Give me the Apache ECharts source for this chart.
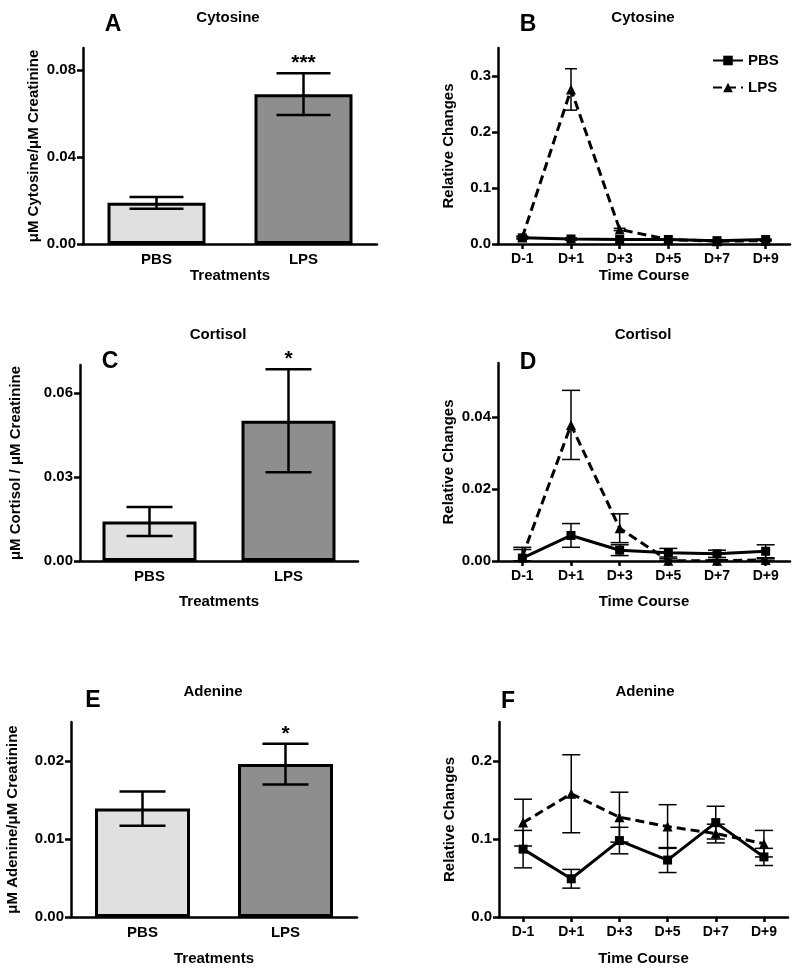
<!DOCTYPE html>
<html>
<head>
<meta charset="utf-8">
<script src="https://cdn.jsdelivr.net/npm/echarts@6.0.0/dist/echarts.min.js"></script>
<style>
  html, body { margin: 0; padding: 0; background: #fff; }
  #main { width: 800px; height: 974px; }
</style>
</head>
<body>
<div id="main"></div>
<script>
// categories
var treatments = ['PBS', 'LPS'];
var days = ['D-1', 'D+1', 'D+3', 'D+5', 'D+7', 'D+9'];

// A - cytosine, treatments (mean / sem)
var cytosineBar = [0.0189, 0.0688];
var cytosineBarErr = [0.0027, 0.0096];
var cytosineStars = ['', '***'];
// B - cytosine, time course
var cytosinePBS = [0.011, 0.009, 0.008, 0.008, 0.006, 0.008];
var cytosinePBSErr = [0.002, 0.002, 0.001, 0.001, 0.001, 0.001];
var cytosineLPS = [0.012, 0.276, 0.026, 0.008, 0.005, 0.006];
var cytosineLPSErr = [0.002, 0.037, 0.002, 0.001, 0.001, 0.001];

// C - cortisol, treatments
var cortisolBar = [0.0141, 0.0501];
var cortisolBarErr = [0.0052, 0.0184];
var cortisolStars = ['', '*'];
// D - cortisol, time course
var cortisolPBS = [0.0008, 0.0071, 0.0030, 0.0023, 0.0020, 0.0027];
var cortisolPBSErr = [0.0030, 0.0033, 0.0015, 0.0012, 0.0010, 0.0018];
var cortisolLPS = [0.0012, 0.0378, 0.0091, 0.0001, 0.0001, 0.0003];
var cortisolLPSErr = [0.0020, 0.0096, 0.0040, 0.0005, 0.0003, 0.0003];

// E - adenine, treatments
var adenineBar = [0.0139, 0.0196];
var adenineBarErr = [0.0022, 0.0026];
var adenineStars = ['', '*'];
// F - adenine, time course
var adeninePBS = [0.087, 0.049, 0.098, 0.073, 0.121, 0.077];
var adeninePBSErr = [0.024, 0.012, 0.017, 0.016, 0.021, 0.011];
var adenineLPS = [0.121, 0.158, 0.128, 0.116, 0.107, 0.094];
var adenineLPSErr = [0.030, 0.050, 0.032, 0.028, 0.012, 0.017];

// y axis ticks
var ticksA = [0, 0.04, 0.08];
var ticksB = [0, 0.1, 0.2, 0.3];
var ticksC = [0, 0.03, 0.06];
var ticksD = [0, 0.02, 0.04];
var ticksE = [0, 0.01, 0.02];
var ticksF = [0, 0.1, 0.2];

var FONT = 'Liberation Sans, Arial, sans-serif';
var barColors = ['#e0e0e0', '#8e8e8e'];

var chart = echarts.init(document.getElementById('main'));

function xAxis(grid, cats, name, gap, ticks) {
  return {
    type: 'category', gridIndex: grid, data: cats,
    name: name, nameLocation: 'middle', nameGap: gap,
    nameTextStyle: { fontFamily: FONT, fontWeight: 'bold', fontSize: 15, color: '#000', verticalAlign: 'top' },
    axisLine: { lineStyle: { color: '#000', width: 2.5 } },
    axisTick: { show: ticks, alignWithLabel: true, length: 5, lineStyle: { color: '#000', width: 2.5 } },
    axisLabel: { fontFamily: FONT, fontWeight: 'bold', fontSize: ticks ? 14 : 15, color: '#000', margin: 8 }
  };
}

function yAxis(grid, max, ticks, digits, name, gap) {
  return {
    type: 'value', gridIndex: grid, min: 0, max: max,
    name: name, nameLocation: 'middle', nameGap: gap,
    nameTextStyle: { fontFamily: FONT, fontWeight: 'bold', fontSize: 15, color: '#000' },
    splitLine: { show: false },
    axisLine: { show: true, lineStyle: { color: '#000', width: 2.5 } },
    axisTick: { show: true, length: 6, customValues: ticks, lineStyle: { color: '#000', width: 2.5 } },
    axisLabel: {
      customValues: ticks, margin: 7,
      fontFamily: FONT, fontWeight: 'bold', fontSize: 15, color: '#000',
      formatter: function (v) { return v.toFixed(digits); }
    }
  };
}

function bars(grid, values, width) {
  return {
    type: 'bar', xAxisIndex: grid, yAxisIndex: grid, barWidth: width, z: 2,
    data: values.map(function (v, i) {
      return { value: v, itemStyle: { color: barColors[i], borderColor: '#000', borderWidth: 3 } };
    })
  };
}

function errorBars(grid, means, errs, cap, lw, stars, z) {
  return {
    type: 'custom', xAxisIndex: grid, yAxisIndex: grid, z: z, silent: true,
    data: means.map(function (m, i) { return [i, Math.max(0, m - errs[i]), m + errs[i]]; }),
    renderItem: function (params, api) {
      var lo = api.coord([api.value(0), api.value(1)]);
      var hi = api.coord([api.value(0), api.value(2)]);
      var st = { stroke: '#000', lineWidth: lw };
      var kids = [
        { type: 'line', shape: { x1: hi[0], y1: hi[1], x2: lo[0], y2: lo[1] }, style: st },
        { type: 'line', shape: { x1: hi[0] - cap, y1: hi[1], x2: hi[0] + cap, y2: hi[1] }, style: st },
        { type: 'line', shape: { x1: lo[0] - cap, y1: lo[1], x2: lo[0] + cap, y2: lo[1] }, style: st }
      ];
      if (stars && stars[params.dataIndex]) {
        kids.push({
          type: 'text', x: hi[0], y: hi[1] - 10,
          style: { text: stars[params.dataIndex], font: 'bold 21px ' + FONT, fill: '#000', align: 'center', verticalAlign: 'middle' }
        });
      }
      return { type: 'group', children: kids };
    }
  };
}

function line(grid, name, values, dashed, symbol, size) {
  return {
    type: 'line', name: name, xAxisIndex: grid, yAxisIndex: grid, z: 3,
    data: values, symbol: symbol, symbolSize: size,
    itemStyle: { color: '#000' },
    lineStyle: { color: '#000', width: 3, type: dashed ? [9, 5] : 'solid' }
  };
}

function text(x, y, str, size) {
  return {
    type: 'text', x: x, y: y,
    style: { text: str, font: 'bold ' + size + 'px ' + FONT, fill: '#000', align: 'center', verticalAlign: 'middle' }
  };
}

chart.setOption({
  animation: false,
  backgroundColor: '#fff',
  grid: [
    { left: 83, top: 48, width: 294, height: 196 },
    { left: 498, top: 48, width: 292, height: 196 },
    { left: 80, top: 365, width: 278, height: 196 },
    { left: 498, top: 363, width: 292, height: 198 },
    { left: 71, top: 722, width: 286, height: 195 },
    { left: 499, top: 722, width: 289, height: 195 }
  ],
  xAxis: [
    xAxis(0, treatments, 'Treatments', 24, false),
    xAxis(1, days, 'Time Course', 24, true),
    xAxis(2, treatments, 'Treatments', 33, false),
    xAxis(3, days, 'Time Course', 33, true),
    xAxis(4, treatments, 'Treatments', 34, false),
    xAxis(5, days, 'Time Course', 34, true)
  ],
  yAxis: [
    yAxis(0, 0.09, ticksA, 2, '\u03bcM Cytosine/\u03bcM Creatinine', 42),
    yAxis(1, 0.35, ticksB, 1, 'Relative Changes', 42),
    yAxis(2, 0.07, ticksC, 2, '\u03bcM Cortisol / \u03bcM Creatinine', 57),
    yAxis(3, 0.055, ticksD, 2, 'Relative Changes', 42),
    yAxis(4, 0.025, ticksE, 2, '\u03bcM Adenine/\u03bcM Creatinine', 51),
    yAxis(5, 0.25, ticksF, 1, 'Relative Changes', 42)
  ],
  legend: {
    data: ['PBS', 'LPS'], orient: 'vertical', left: 707, top: 48,
    itemWidth: 30, itemHeight: 12, itemGap: 12,
    textStyle: { fontFamily: FONT, fontWeight: 'bold', fontSize: 15, color: '#000' }
  },
  graphic: [
    text(113, 25, 'A', 23), text(228, 18, 'Cytosine', 15),
    text(528, 25, 'B', 23), text(643, 18, 'Cytosine', 15),
    text(110, 362, 'C', 23), text(218, 335, 'Cortisol', 15),
    text(528, 363, 'D', 23), text(643, 335, 'Cortisol', 15),
    text(93, 701, 'E', 23), text(213, 692, 'Adenine', 15),
    text(508, 702, 'F', 23), text(645, 692, 'Adenine', 15)
  ],
  series: [
    bars(0, cytosineBar, 98),
    errorBars(0, cytosineBar, cytosineBarErr, 27, 2.5, cytosineStars, 4),
    errorBars(1, cytosinePBS, cytosinePBSErr, 6, 1.5, null, 1),
    errorBars(1, cytosineLPS, cytosineLPSErr, 6, 1.5, null, 1),
    line(1, 'PBS', cytosinePBS, false, 'rect', 9),
    line(1, 'LPS', cytosineLPS, true, 'triangle', 10),

    bars(2, cortisolBar, 94),
    errorBars(2, cortisolBar, cortisolBarErr, 23, 2.5, cortisolStars, 4),
    errorBars(3, cortisolPBS, cortisolPBSErr, 9, 1.5, null, 1),
    errorBars(3, cortisolLPS, cortisolLPSErr, 9, 1.5, null, 1),
    line(3, 'PBS', cortisolPBS, false, 'rect', 9),
    line(3, 'LPS', cortisolLPS, true, 'triangle', 10),

    bars(4, adenineBar, 95),
    errorBars(4, adenineBar, adenineBarErr, 23, 2.5, adenineStars, 4),
    errorBars(5, adeninePBS, adeninePBSErr, 9, 1.5, null, 1),
    errorBars(5, adenineLPS, adenineLPSErr, 9, 1.5, null, 1),
    line(5, 'PBS', adeninePBS, false, 'rect', 9),
    line(5, 'LPS', adenineLPS, true, 'triangle', 10)
  ]
});
</script>
</body>
</html>
